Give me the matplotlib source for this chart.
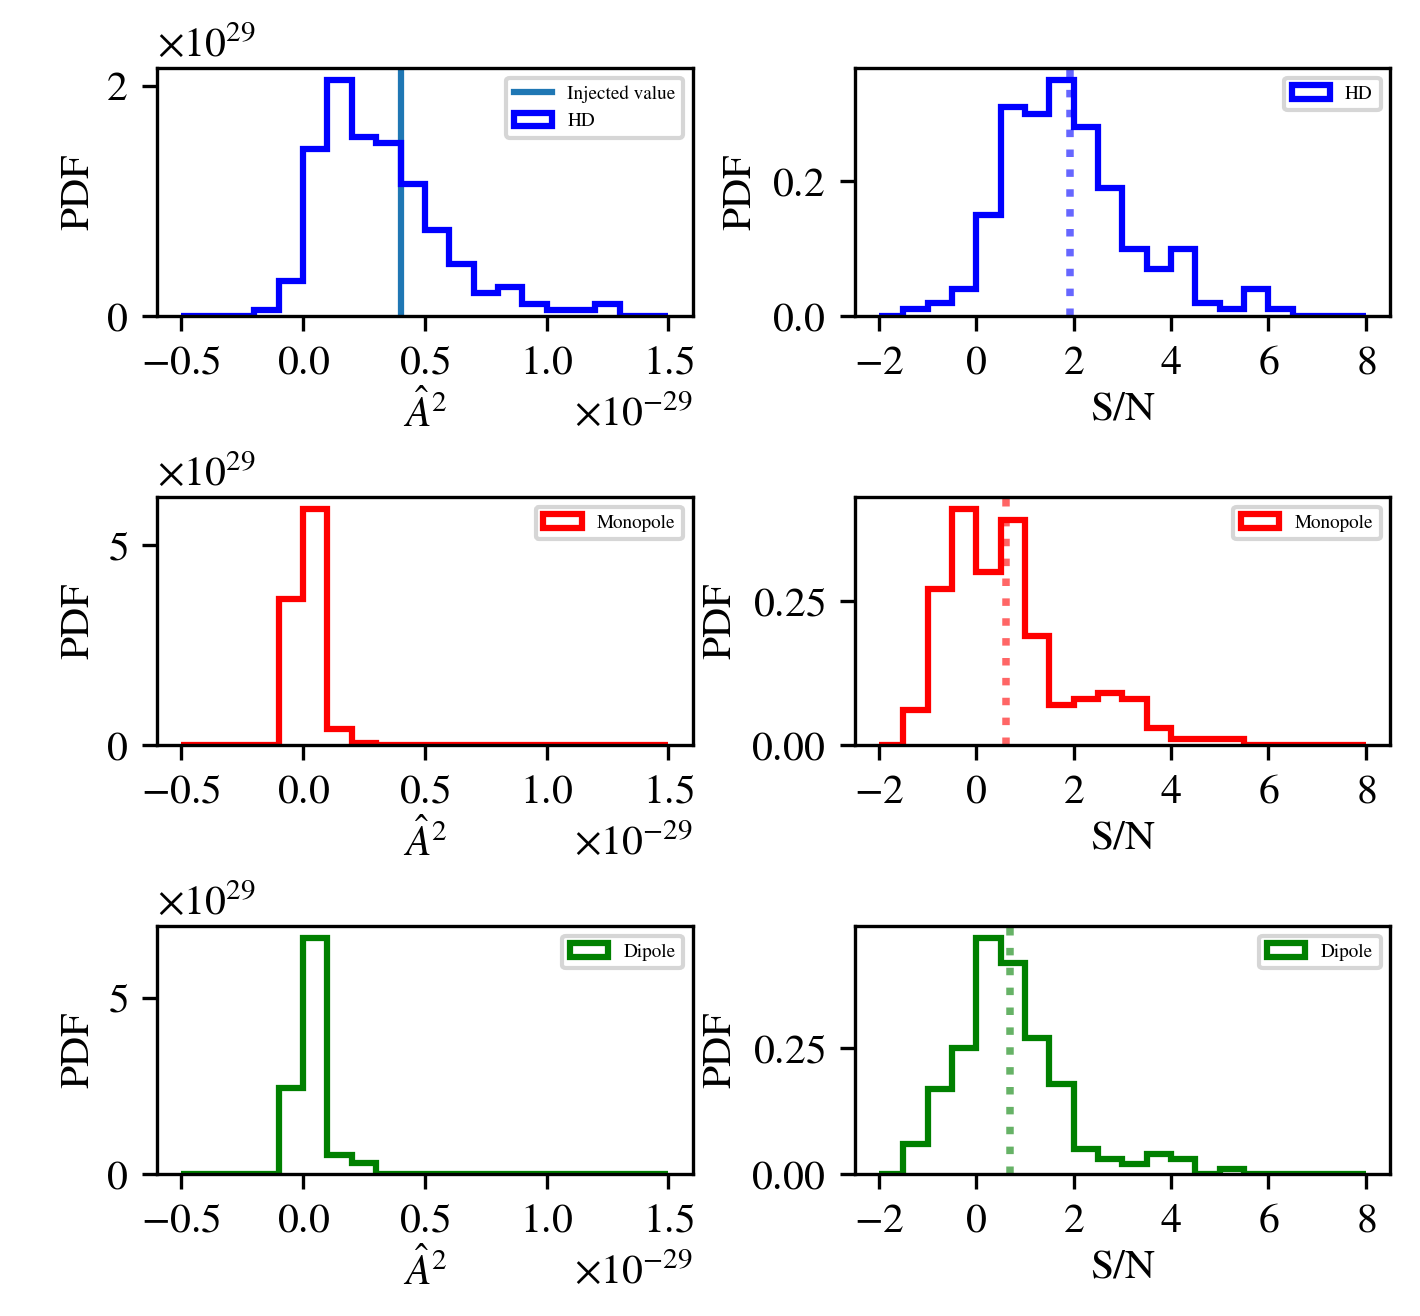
import numpy as np
import matplotlib
matplotlib.use('Agg')
import matplotlib.pyplot as plt

plt.rcParams['font.family'] = 'STIXGeneral'
plt.rcParams['mathtext.fontset'] = 'stix'
plt.rcParams['axes.formatter.use_mathtext'] = True

# bin edges of the two kinds of histograms
amp_edges = np.linspace(-0.5, 1.5, 21) * 1e-29
snr_edges = np.linspace(-2.0, 8.0, 21)

# PDF values per bin (amplitude pdfs in units of 1e29)
amp_hd = np.array([0, 0, 0, 0.05, 0.3, 1.45, 2.05, 1.55, 1.5, 1.15,
                   0.75, 0.45, 0.2, 0.25, 0.1, 0.05, 0.05, 0.1, 0, 0]) * 1e29
amp_mono = np.array([0, 0, 0, 0, 3.65, 5.9, 0.4, 0.05, 0, 0,
                     0, 0, 0, 0, 0, 0, 0, 0, 0, 0]) * 1e29
amp_dip = np.array([0, 0, 0, 0, 2.45, 6.7, 0.55, 0.3, 0, 0,
                    0, 0, 0, 0, 0, 0, 0, 0, 0, 0]) * 1e29

snr_hd = [0, 0.01, 0.02, 0.04, 0.15, 0.31, 0.30, 0.35, 0.28, 0.19,
          0.10, 0.07, 0.10, 0.02, 0.01, 0.04, 0.01, 0, 0, 0]
snr_mono = [0, 0.06, 0.27, 0.41, 0.30, 0.39, 0.19, 0.07, 0.08, 0.09,
            0.08, 0.03, 0.01, 0.01, 0.01, 0, 0, 0, 0, 0]
snr_dip = [0, 0.06, 0.17, 0.25, 0.47, 0.42, 0.27, 0.18, 0.05, 0.03,
           0.02, 0.04, 0.03, 0, 0.01, 0, 0, 0, 0, 0]

snr_mean = [1.92, 0.61, 0.69]
injected = 0.4e-29

names = ['HD', 'Monopole', 'Dipole']
colors = ['blue', 'red', 'green']
amp_pdfs = [amp_hd, amp_mono, amp_dip]
snr_pdfs = [snr_hd, snr_mono, snr_dip]

amp_ticks = np.array([-0.5, 0.0, 0.5, 1.0, 1.5]) * 1e-29
snr_ticks = [-2, 0, 2, 4, 6, 8]

fig, axes = plt.subplots(3, 2, figsize=(1420 / 300, 1316 / 300), dpi=300)
plt.subplots_adjust(left=0.1106, right=0.979, top=0.9483, bottom=0.1079,
                    wspace=0.302, hspace=0.73)

amp_mid = (amp_edges[:-1] + amp_edges[1:]) / 2
snr_mid = (snr_edges[:-1] + snr_edges[1:]) / 2

for i in range(3):
    ax = axes[i, 0]
    if i == 0:
        ax.axvline(injected, color='C0', lw=1.5, label='Injected value')
    ax.hist(amp_mid, bins=amp_edges, weights=amp_pdfs[i], histtype='step',
            color=colors[i], lw=1.5, label=names[i])
    ax.set_xticks(amp_ticks)
    ax.set_xlabel(r'$\hat{A}^2$', labelpad=2)
    ax.set_ylabel('PDF', labelpad=2)
    ax.legend(loc='upper right', fontsize=4.6)

    ax = axes[i, 1]
    ax.hist(snr_mid, bins=snr_edges, weights=snr_pdfs[i], histtype='step',
            color=colors[i], lw=1.5, label=names[i])
    ax.axvline(snr_mean[i], color=colors[i], ls=':', lw=1.8, alpha=0.6)
    ax.set_xticks(snr_ticks)
    ax.set_xlabel('S/N', labelpad=2)
    ax.set_ylabel('PDF', labelpad=3)
    ax.legend(loc='upper right', fontsize=4.6)

plt.savefig('out.png', dpi=300)
